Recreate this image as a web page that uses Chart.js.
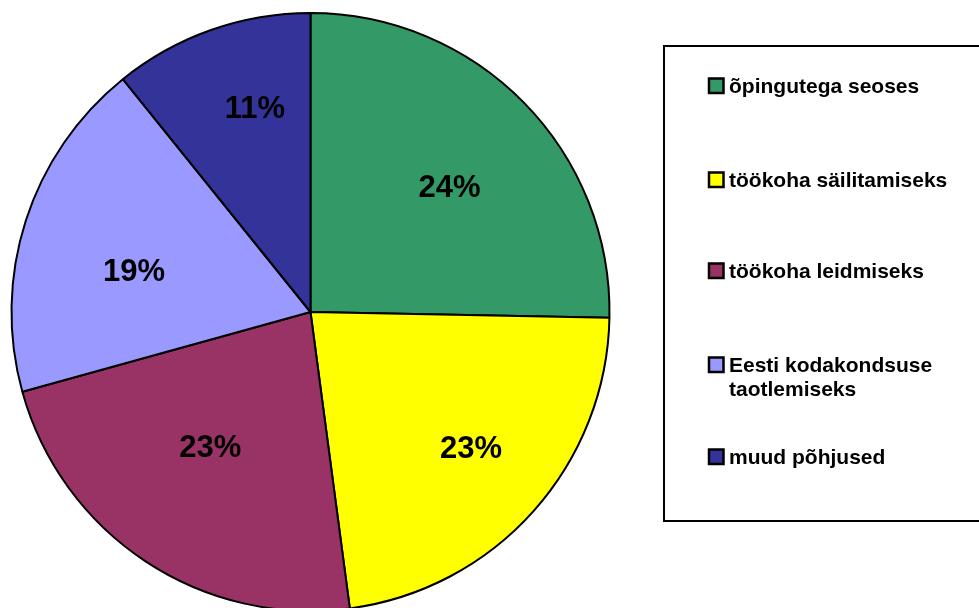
<!DOCTYPE html>
<html>
<head>
<meta charset="utf-8">
<script src="https://cdn.jsdelivr.net/npm/chart.js@4.4.0/dist/chart.umd.min.js"></script>
<style>
  html, body { margin: 0; padding: 0; background: #fff; overflow: hidden; }
  #wrap { position: absolute; left: 0; top: 0; width: 979px; height: 624px; }
</style>
</head>
<body>
<div id="wrap"><canvas id="pie"></canvas></div>
<script>
// kategooriad (legendi tekst, mitmerealine massiivina)
const categories = [
    'õpingutega seoses',
    'töökoha säilitamiseks',
    'töökoha leidmiseks',
    ['Eesti kodakondsuse', 'taotlemiseks'],
    'muud põhjused'
];
// sektorite suurused (loetud pildilt, %)
const shares = [25.3, 22.6, 22.8, 18.5, 10.8];
// sektorite sildid nagu pildil
const percentLabels = ['24%', '23%', '23%', '19%', '11%'];
const sliceColors = ['#339966', '#ffff00', '#993366', '#9999ff', '#333399'];

const FONT = '"Liberation Sans", Arial, sans-serif';

// protsendisildid sektorite sisse
const sliceLabels = {
    id: 'sliceLabels',
    afterDatasetsDraw(chart) {
        const ctx = chart.ctx;
        // raadiuse osa ja nurga nihe (kraadides) iga sildi jaoks
        const radiusFrac = [0.625, 0.705, 0.563, 0.606, 0.707];
        const angleShift = [2.5, -1.4, 3.1, -4.8, 4.2];
        ctx.save();
        ctx.font = 'bold 31px ' + FONT;
        ctx.fillStyle = '#000';
        ctx.textAlign = 'center';
        ctx.textBaseline = 'middle';
        chart.getDatasetMeta(0).data.forEach((arc, i) => {
            const p = arc.getProps(['x', 'y', 'startAngle', 'endAngle', 'outerRadius'], true);
            const mid = (p.startAngle + p.endAngle) / 2 + angleShift[i] * Math.PI / 180;
            const r = p.outerRadius * radiusFrac[i];
            ctx.fillText(percentLabels[i], p.x + Math.cos(mid) * r, p.y + Math.sin(mid) * r + 1);
        });
        ctx.restore();
    }
};

// legend raamiga paremal
const boxLegend = {
    id: 'boxLegend',
    afterDraw(chart) {
        const ctx = chart.ctx;
        const colors = chart.data.datasets[0].backgroundColor;
        const baselines = [93, 187, 278, 372, 464];
        ctx.save();
        ctx.lineWidth = 2;
        ctx.strokeStyle = '#000';
        ctx.strokeRect(664, 46, 400, 475);
        ctx.font = 'bold 21px ' + FONT;
        ctx.textBaseline = 'alphabetic';
        ctx.textAlign = 'left';
        chart.data.labels.forEach((lab, i) => {
            const b = baselines[i];
            ctx.fillStyle = colors[i];
            ctx.fillRect(709, b - 14.5, 14.5, 14.5);
            ctx.lineWidth = 2.5;
            ctx.strokeRect(709, b - 14.5, 14.5, 14.5);
            ctx.fillStyle = '#000';
            const lines = Array.isArray(lab) ? lab : [lab];
            lines.forEach((t, k) => ctx.fillText(t, 729, b + k * 23.5));
        });
        ctx.restore();
    }
};

const pieChart = new Chart(document.getElementById('pie'), {
    type: 'pie',
    data: {
        labels: categories,
        datasets: [{
            data: shares,
            backgroundColor: sliceColors,
            borderColor: '#000',
            borderWidth: 2
        }]
    },
    options: {
        responsive: true,
        maintainAspectRatio: false,
        animation: false,
        layout: {
            padding: { left: 10, top: 12, right: 368, bottom: 12 }
        },
        plugins: {
            legend: { display: false },
            tooltip: { enabled: false }
        }
    },
    plugins: [sliceLabels, boxLegend]
});
</script>
</body>
</html>
